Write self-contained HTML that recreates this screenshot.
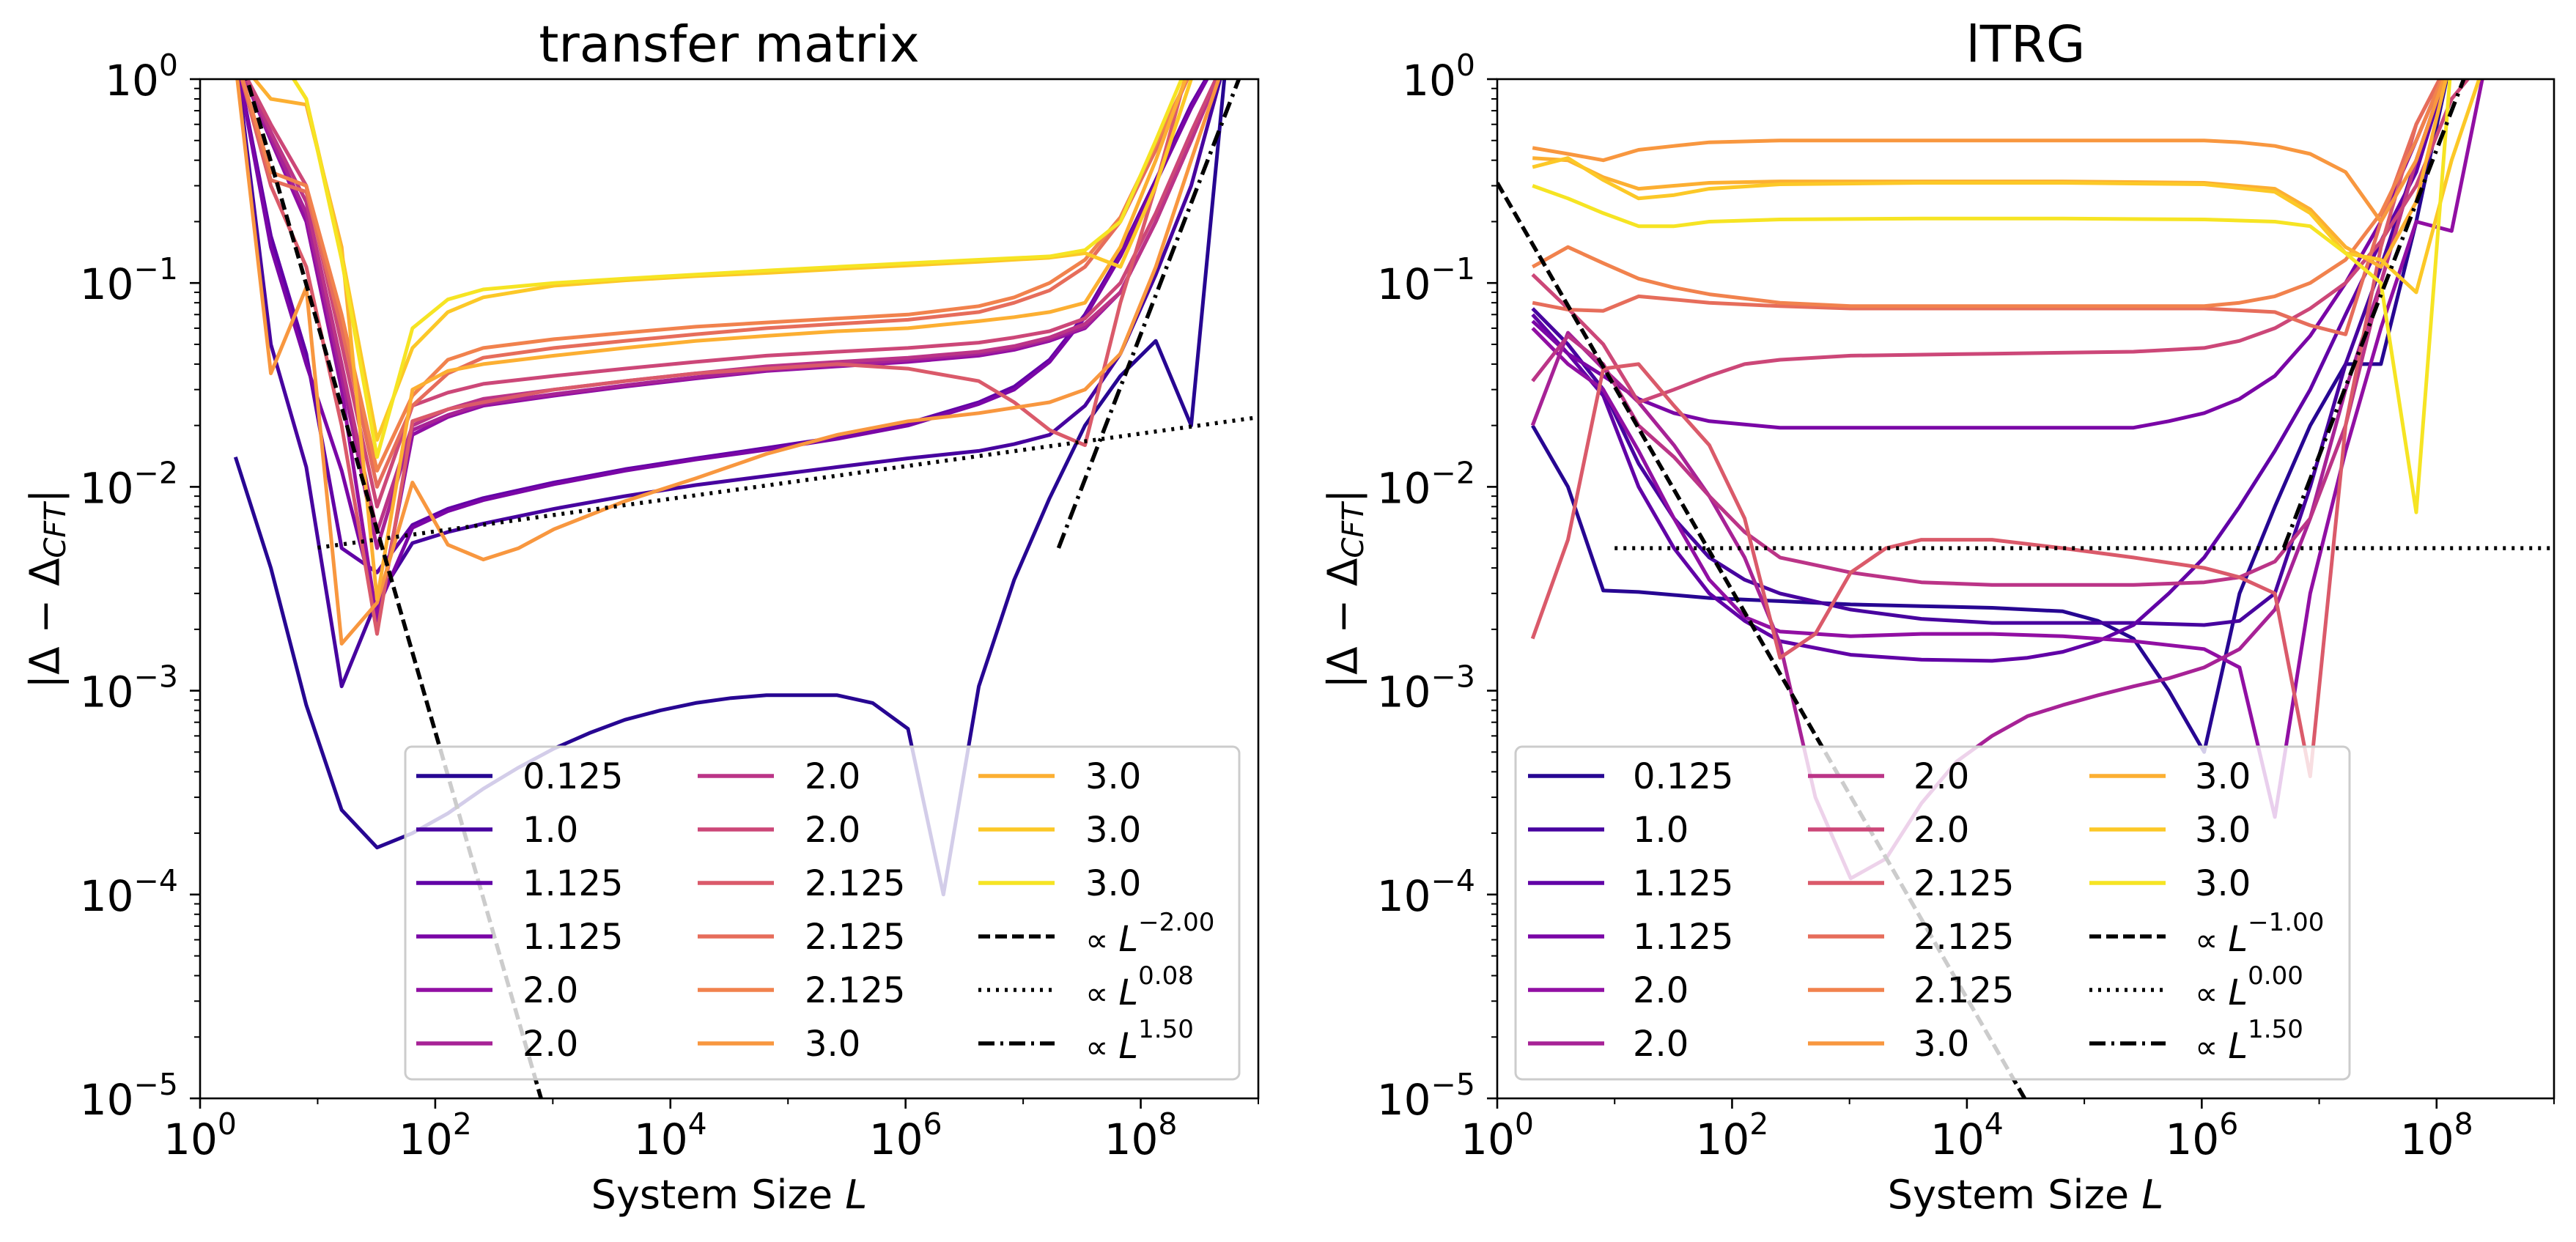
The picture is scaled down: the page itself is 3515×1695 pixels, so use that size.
<!DOCTYPE html>
<html><head><meta charset="utf-8">
<style>
html,body{margin:0;padding:0;background:#fff;width:3515px;height:1695px;overflow:hidden;}
svg{display:block;font-family:"DejaVu Sans","Liberation Sans",sans-serif;}
</style></head>
<body>
<svg id="fig" width="3515" height="1695" viewBox="0 0 3515 1695" xmlns="http://www.w3.org/2000/svg"></svg>
<script>
// ---- data: each point is [log2(L), |Delta - Delta_CFT|] ----
const seriesLabels = ["0.125","1.0","1.125","1.125","2.0","2.0","2.0","2.0","2.125","2.125","2.125","3.0","3.0","3.0","3.0"];
const xTickExps = [0,2,4,6,8];
const yTickExps = [0,-1,-2,-3,-4,-5];

const tm0=[[1,.014],[2,.004],[3,8.5e-4],[4,2.6e-4],[5,1.7e-4],[6,2e-4],[7,2.5e-4],[8,3.3e-4],[9,4.2e-4],[10,5.2e-4],[11,6.2e-4],[12,7.2e-4],[13,8e-4],[14,8.7e-4],[15,9.2e-4],[16,9.5e-4],[17,9.5e-4],[18,9.5e-4],[19,8.7e-4],[20,6.5e-4],[21,1e-4],[22,1.05e-3],[23,3.5e-3],[24,8.8e-3],[25,.02],[26,.035],[27,.052],[28,.02],[29,1.3]];
const tm1=[[1,1.3],[2,.05],[3,.0125],[4,1.05e-3],[5,2.8e-3],[6,5.3e-3],[7,6e-3],[8,6.6e-3],[10,7.8e-3],[12,9e-3],[14,1.02e-2],[16,1.13e-2],[18,1.25e-2],[20,1.38e-2],[22,1.5e-2],[23,1.62e-2],[24,1.8e-2],[25,2.5e-2],[26,.045],[27,.11],[28,.3],[29,1.3]];
const tm2=[[1,1.3],[2,.17],[3,.045],[4,5e-3],[5,3.8e-3],[6,6.5e-3],[7,7.8e-3],[8,8.8e-3],[10,1.05e-2],[12,1.22e-2],[14,1.38e-2],[16,1.55e-2],[18,1.75e-2],[20,2.05e-2],[22,2.6e-2],[23,3.1e-2],[24,4.2e-2],[25,.07],[26,.14],[27,.32],[28,.75],[29,1.5]];
const tm3=[[1,1.3],[2,.15],[3,.04],[4,.012],[5,2.5e-3],[6,6.3e-3],[7,7.6e-3],[8,8.6e-3],[10,1.03e-2],[12,1.2e-2],[14,1.36e-2],[16,1.52e-2],[18,1.72e-2],[20,2e-2],[22,2.55e-2],[23,3e-2],[24,4.1e-2],[25,.068],[26,.135],[27,.31],[28,.72],[29,1.5]];
const tm4=[[1,1.3],[2,.5],[3,.2],[4,.03],[5,2.2e-3],[6,.018],[7,.022],[8,.025],[10,.028],[12,.031],[14,.034],[16,.037],[18,.039],[20,.041],[22,.044],[23,.047],[24,.052],[25,.06],[26,.09],[27,.2],[28,.5],[29,1.3]];
const tm5=[[1,1.3],[2,.52],[3,.22],[4,.035],[5,5e-3],[6,.019],[7,.0225],[8,.0255],[10,.0285],[12,.0315],[14,.0345],[16,.0375],[18,.0395],[20,.042],[22,.045],[23,.048],[24,.053],[25,.061],[26,.09],[27,.2],[28,.5],[29,1.3]];
const tm6=[[1,1.3],[2,.55],[3,.25],[4,.04],[5,.006],[6,.02],[7,.024],[8,.027],[10,.03],[12,.033],[14,.036],[16,.039],[18,.041],[20,.043],[22,.046],[23,.049],[24,.054],[25,.063],[26,.09],[27,.2],[28,.5],[29,1.3]];
const tm7=[[1,1.3],[2,.6],[3,.3],[4,.05],[5,.008],[6,.025],[7,.029],[8,.032],[10,.035],[12,.038],[14,.041],[16,.044],[18,.046],[20,.048],[22,.051],[23,.054],[24,.058],[25,.067],[26,.1],[27,.22],[28,.55],[29,1.3]];
const tm8=[[1,1.3],[2,.3],[3,.12],[4,.02],[5,1.9e-3],[6,.021],[7,.024],[8,.026],[10,.03],[12,.033],[14,.036],[16,.038],[18,.04],[20,.038],[22,.033],[23,.026],[24,.019],[25,.016],[26,.08],[27,.3],[28,1.3]];
const tm9=[[1,1.3],[2,.32],[3,.28],[4,.06],[5,.01],[6,.025],[7,.036],[8,.043],[10,.048],[12,.052],[14,.056],[16,.06],[18,.063],[20,.066],[22,.072],[23,.08],[24,.092],[25,.12],[26,.2],[27,.45],[28,1.1]];
const tm10=[[1,1.3],[2,.35],[3,.3],[4,.07],[5,.012],[6,.028],[7,.042],[8,.048],[10,.053],[12,.057],[14,.061],[16,.064],[18,.067],[20,.07],[22,.077],[23,.085],[24,.1],[25,.13],[26,.21],[27,.48],[28,1.1]];
const tm11=[[1,1.2],[2,.036],[3,.095],[4,1.7e-3],[5,2.7e-3],[6,.0105],[7,.0052],[8,.0044],[9,.005],[10,.0062],[12,.0085],[14,.011],[16,.0145],[18,.018],[20,.021],[22,.023],[24,.026],[25,.03],[26,.045],[27,.12],[28,.4],[29,1.3]];
const tm12=[[1,1.3],[2,.8],[3,.75],[4,.15],[5,2.8e-3],[6,.03],[7,.037],[8,.04],[10,.044],[12,.048],[14,.052],[16,.055],[18,.058],[20,.06],[22,.065],[23,.068],[24,.072],[25,.08],[26,.15],[27,.4],[28,1.2]];
const tm13=[[1,3],[2,1.5],[3,.8],[4,.14],[5,.017],[6,.048],[7,.072],[8,.085],[10,.097],[12,.103],[14,.108],[16,.112],[18,.117],[20,.122],[22,.127],[24,.133],[25,.14],[26,.12],[27,.3],[28,1]];
const tm14=[[1,3],[2,1.5],[3,.8],[4,.13],[5,.014],[6,.06],[7,.083],[8,.093],[10,.1],[12,.105],[14,.11],[16,.115],[18,.12],[20,.125],[22,.13],[24,.135],[25,.145],[26,.2],[27,.5],[28,1.3]];

const tr0=[[1,.02],[2,.01],[3,3.1e-3],[4,3.05e-3],[6,2.85e-3],[8,2.75e-3],[10,2.65e-3],[12,2.6e-3],[14,2.55e-3],[16,2.45e-3],[17,2.2e-3],[18,1.8e-3],[19,1e-3],[20,5e-4],[21,3e-3],[22,8e-3],[23,.02],[24,.04],[25,.04],[26,.2],[27,1.3]];
const tr1=[[1,.075],[2,.05],[3,.03],[4,.013],[5,7e-3],[6,4.5e-3],[7,3.5e-3],[8,3e-3],[10,2.5e-3],[12,2.25e-3],[14,2.15e-3],[16,2.15e-3],[18,2.15e-3],[20,2.1e-3],[21,2.2e-3],[22,3e-3],[23,.01],[24,.04],[25,.12],[26,.4],[27,1.3]];
const tr2=[[1,.07],[2,.045],[3,.028],[4,.01],[5,5e-3],[6,3e-3],[7,2.2e-3],[8,1.75e-3],[10,1.5e-3],[12,1.42e-3],[14,1.4e-3],[15,1.45e-3],[16,1.55e-3],[17,1.75e-3],[18,2.1e-3],[19,3e-3],[20,4.5e-3],[21,8e-3],[22,.015],[23,.03],[24,.07],[25,.16],[26,.35],[27,1.3]];
const tr3=[[1,.065],[2,.045],[3,.035],[4,.027],[5,.023],[6,.021],[8,.0195],[10,.0195],[12,.0195],[14,.0195],[16,.0195],[18,.0195],[19,.021],[20,.023],[21,.027],[22,.035],[23,.055],[24,.1],[25,.2],[26,.5],[27,1.3]];
const tr4=[[1,.06],[2,.04],[3,.03],[4,.015],[5,7e-3],[6,3.5e-3],[7,2.3e-3],[8,1.95e-3],[10,1.85e-3],[12,1.9e-3],[14,1.9e-3],[16,1.85e-3],[18,1.75e-3],[20,1.6e-3],[21,1.3e-3],[22,2.4e-4],[23,3e-3],[24,.015],[25,.06],[26,.2],[27,.18],[28,1.3]];
const tr5=[[1,.02],[2,.057],[3,.038],[4,.026],[5,.016],[6,.009],[7,4.5e-3],[8,1.7e-3],[9,3e-4],[10,1.2e-4],[11,1.5e-4],[12,2.8e-4],[13,4.5e-4],[14,6e-4],[15,7.5e-4],[16,8.5e-4],[17,9.5e-4],[18,1.05e-3],[19,1.15e-3],[20,1.3e-3],[21,1.6e-3],[22,2.5e-3],[23,7e-3],[24,.03],[25,.1],[26,.4],[27,1.3]];
const tr6=[[1,.033],[2,.055],[3,.04],[4,.02],[5,.014],[6,9e-3],[7,6e-3],[8,4.5e-3],[10,3.8e-3],[12,3.4e-3],[14,3.3e-3],[16,3.3e-3],[18,3.3e-3],[20,3.4e-3],[21,3.6e-3],[22,4.3e-3],[23,7e-3],[24,.02],[25,.1],[26,.4],[27,1.3]];
const tr7=[[1,.11],[2,.075],[3,.05],[4,.026],[5,.03],[6,.035],[7,.04],[8,.042],[10,.044],[14,.045],[18,.046],[20,.048],[21,.052],[22,.06],[23,.075],[24,.1],[25,.16],[26,.3],[27,.8],[28,1.3]];
const tr8=[[1,1.8e-3],[2,5.5e-3],[3,.038],[4,.04],[5,.025],[6,.016],[7,7e-3],[8,1.45e-3],[9,1.9e-3],[10,3.8e-3],[11,5e-3],[12,5.5e-3],[14,5.5e-3],[16,5e-3],[18,4.5e-3],[20,4e-3],[21,3.6e-3],[22,3e-3],[23,3.8e-4],[24,.02],[25,.15],[26,.6],[27,1.3]];
const tr9=[[1,.08],[2,.074],[3,.073],[4,.086],[5,.083],[6,.08],[8,.077],[10,.075],[14,.075],[18,.075],[20,.075],[22,.072],[23,.062],[24,.056],[25,.2],[26,.6],[27,1.3]];
const tr10=[[1,.12],[2,.15],[3,.125],[4,.105],[5,.095],[6,.088],[8,.08],[10,.077],[14,.077],[18,.077],[20,.077],[21,.08],[22,.086],[23,.1],[24,.13],[25,.22],[26,.5],[27,1.3]];
const tr11=[[1,.46],[2,.43],[3,.4],[4,.45],[5,.47],[6,.49],[8,.5],[12,.5],[16,.5],[20,.5],[21,.49],[22,.47],[23,.43],[24,.35],[25,.2],[26,.4],[27,1.3]];
const tr12=[[1,.41],[2,.4],[3,.33],[4,.29],[5,.3],[6,.31],[8,.315],[12,.315],[16,.315],[20,.31],[22,.29],[23,.23],[24,.15],[25,.12],[26,.25],[27,1.3]];
const tr13=[[1,.37],[2,.41],[3,.32],[4,.26],[5,.27],[6,.29],[8,.305],[12,.31],[16,.31],[20,.305],[22,.28],[23,.22],[24,.14],[25,.13],[26,.09],[27,.4],[28,1.3]];
const tr14=[[1,.3],[2,.26],[3,.22],[4,.19],[5,.19],[6,.2],[8,.205],[12,.207],[16,.207],[20,.205],[22,.2],[23,.19],[24,.14],[25,.1],[26,.0075],[27,1.3]];

const tmSeries=[tm0,tm1,tm2,tm3,tm4,tm5,tm6,tm7,tm8,tm9,tm10,tm11,tm12,tm13,tm14];
const trSeries=[tr0,tr1,tr2,tr3,tr4,tr5,tr6,tr7,tr8,tr9,tr10,tr11,tr12,tr13,tr14];

// power-law guides: [exponent, prefactor, L start]
const tmGuides=[[-2.0,6.3,1.5],[0.08,0.00418,10],[1.5,5.6e-14,2e7]];
const trGuides=[[-1.0,0.31,1],[0.0,0.005,10],[1.5,4.5e-13,5e6]];
const tmGuideLabels=["−2.00","0.08","1.50"];
const trGuideLabels=["−1.00","0.00","1.50"];

// ---- drawing ----
const NS="http://www.w3.org/2000/svg";
const svg=document.getElementById('fig');
function mk(tag,attrs,parent){const e=document.createElementNS(NS,tag);for(const k in attrs)e.setAttribute(k,attrs[k]);(parent||svg).appendChild(e);return e;}
const plasma=[[13,8,135],[65,4,157],[106,0,168],[143,13,164],[177,42,144],[204,71,120],[225,100,98],[242,132,75],[252,166,54],[252,206,37],[240,249,33]];
function cmap(t){const s=t*10,i=Math.min(9,Math.floor(s)),f=s-i;const a=plasma[i],b=plasma[i+1];return 'rgb('+a.map((v,j)=>Math.round(v+(b[j]-v)*f)).join(',')+')';}
const colors=seriesLabels.map((_,i)=>cmap(0.05+i*0.9/14));

const Y0=108,H=1391;
function panel(id,x0,W,series,guides,gLabels,title,leg){
  const g=mk('g',{});
  
  
  const xs=lx=>x0+lx/9*W;
  const ys=v=>Y0+(-Math.log10(v))/5*H;
  const cp=mk('clipPath',{id:'clip-'+id},g);
  mk('rect',{x:x0,y:Y0,width:W,height:H},cp);
  const plot=mk('g',{'clip-path':'url(#clip-'+id+')'},g);
  series.forEach((s,i)=>{
    const d=s.map((p,j)=>(j?'L':'M')+xs(p[0]*Math.LOG10E*Math.LN2).toFixed(1)+' '+ys(p[1]).toFixed(1)).join(' ');
    const pth=mk('path',{d:d,fill:'none',stroke:colors[i],'stroke-width':5,'stroke-linejoin':'round'},plot);
    
    
  });
  const dashes=['16 7','4 8','22 8 4 8'];
  guides.forEach((gd,i)=>{
    const [e,c,l0]=gd;const a=Math.log10(l0),b=9;
    const d='M'+xs(a)+' '+ys(c*Math.pow(10,a*e))+' L'+xs(b)+' '+ys(c*Math.pow(10,b*e));
    const pth=mk('path',{d:d,fill:'none',stroke:'#000','stroke-width':5.5,'stroke-dasharray':dashes[i]},plot);
    
    
  });
  for(let dcd=0;dcd<=9;dcd++){
    const x=xs(dcd),major=xTickExps.includes(dcd);
    mk('line',{x1:x,x2:x,y1:Y0+H,y2:Y0+H+(major?14:8),stroke:'#000','stroke-width':major?2.6:2},g);
  }
  xTickExps.forEach(e=>{
    const t=mk('text',{x:xs(e),y:1575,'font-size':58,'text-anchor':'middle'},g);
    
    
    t.innerHTML='10<tspan font-size="41" dy="-27">'+e+'</tspan>';
  });
  for(let dcd=0;dcd<5;dcd++){for(let m=2;m<=9;m++){const y=ys(Math.pow(10,-dcd-1)*m);mk('line',{x1:x0-8,x2:x0,y1:y,y2:y,stroke:'#000','stroke-width':2},g);}}
  yTickExps.forEach(e=>{
    const y=ys(Math.pow(10,e));
    mk('line',{x1:x0-14,x2:x0,y1:y,y2:y,stroke:'#000','stroke-width':2.6},g);
    const t=mk('text',{x:x0-30,y:y+22,'font-size':58,'text-anchor':'end'},g);
    
    
    const sup=e===0?'0':'−'+(-e);
    t.innerHTML='10<tspan font-size="41" dy="-27">'+sup+'</tspan>';
  });
  mk('rect',{x:x0,y:Y0,width:W,height:H,fill:'none',stroke:'#000','stroke-width':2.6},g);
  const tt=mk('text',{x:x0+W/2,y:84,'font-size':69,'text-anchor':'middle'},g);
  
  
  tt.textContent=title;
  const xl=mk('text',{x:x0+W/2,y:1649,'font-size':54,'text-anchor':'middle'},g);
  
  
  xl.innerHTML='System Size <tspan font-style="italic">L</tspan>';
  const ylx=leg.ylx;
  const yl=mk('text',{x:ylx,y:Y0+H/2,'font-size':56,'text-anchor':'middle',transform:'rotate(-90 '+ylx+' '+(Y0+H/2)+')','dominant-baseline':'central'},g);
  
  
  yl.innerHTML='|Δ − Δ<tspan font-style="italic" font-size="40" dy="14">CFT</tspan><tspan dy="-14">|</tspan>';
  const lg=mk('g',{},g);
  
  
  mk('rect',{x:leg.x,y:1019,width:leg.w,height:454,rx:9,fill:'rgba(255,255,255,0.8)',stroke:'#cccccc','stroke-width':3},lg);
  for(let i=0;i<18;i++){
    const col=Math.floor(i/6),row=i%6,y=1059+row*73;
    const hx=leg.hx[col],tx=leg.tx[col];
    const ent=mk('g',{},lg);
    
    
    if(i<15){
      mk('line',{x1:hx,x2:hx+104,y1:y,y2:y,stroke:colors[i],'stroke-width':5.5},ent);
      const t=mk('text',{x:tx,y:y+17,'font-size':48},ent);t.textContent=seriesLabels[i];
    }else{
      const gi=i-15;
      mk('line',{x1:hx,x2:hx+104,y1:y,y2:y,stroke:'#000','stroke-width':5.5,'stroke-dasharray':dashes[gi]},ent);
      const t=mk('text',{x:tx,y:y+20,'font-size':44},ent);
      t.innerHTML='∝ <tspan font-style="italic" font-size="48">L</tspan><tspan font-size="34" dy="-28">'+gLabels[gi]+'</tspan>';
    }
  }
}
panel('transfer-matrix',273,1444,tmSeries,tmGuides,tmGuideLabels,'transfer matrix',
  {x:553,w:1138,hx:[568,952,1335],tx:[713,1098,1481],ylx:62});
panel('ltrg',2043,1442,trSeries,trGuides,trGuideLabels,'lTRG',
  {x:2068,w:1138,hx:[2085,2467,2851],tx:[2228,2611,2995],ylx:1833});
</script>
</body></html>
